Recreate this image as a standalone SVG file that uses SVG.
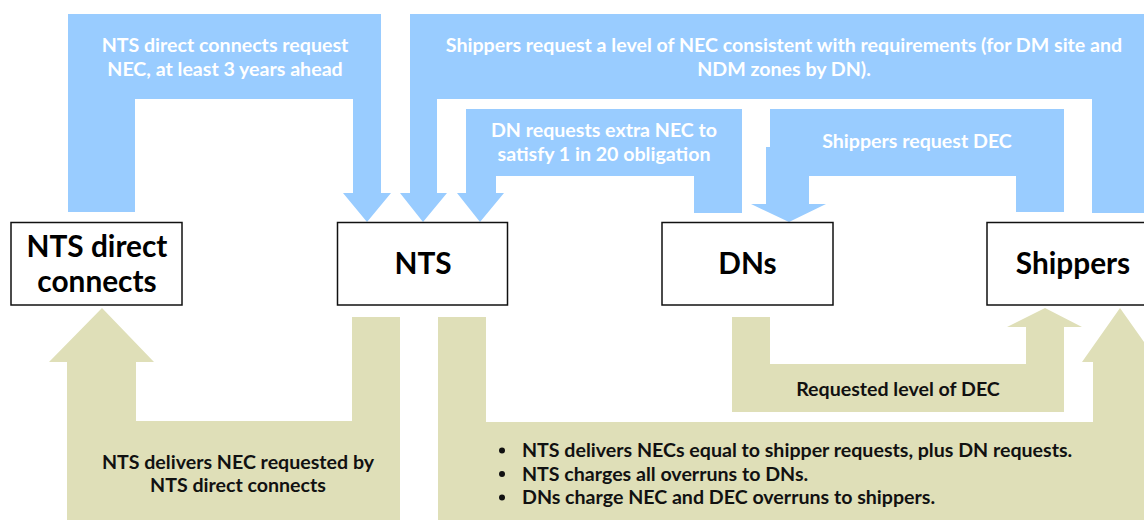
<svg xmlns="http://www.w3.org/2000/svg" width="1144" height="520" viewBox="0 0 1144 520">
<style>
.req{fill:#99CCFF;}
.del{fill:#DFDFB8;}
.wt{fill:#FFFFFF;font-family:Lato,"Liberation Sans",sans-serif;font-weight:bold;font-size:19.6px;text-anchor:middle;}
.bt{fill:#111111;font-family:Lato,"Liberation Sans",sans-serif;font-weight:bold;font-size:19.6px;}
.box{fill:#FFFFFF;stroke:#111111;stroke-width:1.5;}
.lbl{fill:#000000;font-family:Lato,"Liberation Sans",sans-serif;font-weight:bold;font-size:29.8px;text-anchor:middle;}
</style>
<rect width="1144" height="520" fill="#FFFFFF"/>
<g id="connectors">
  <g id="c-ntsdc-request">
    <polygon class="req" points="68,14 381,14 381,193 391,193 367,222 343,193 353,193 353,99 135,99 135,212 68,212"/>
    <text class="wt" x="225" y="52">NTS direct connects request</text>
    <text class="wt" x="225" y="76">NEC, at least 3 years ahead</text>
  </g>
  <g id="c-shippers-nec">
    <polygon class="req" points="410,14 1144,14 1144,213 1092,213 1092,99 437,99 437,193 447,193 423,222 400,193 410,193"/>
    <text class="wt" x="784" y="52">Shippers request a level of NEC consistent with requirements (for DM site and</text>
    <text class="wt" x="784" y="76">NDM zones by DN).</text>
  </g>
  <g id="c-dn-extra">
    <polygon class="req" points="466,109 742,109 742,213 694,213 694,176 496,176 496,193 504,193 480,222 457,193 466,193"/>
    <text class="wt" x="604" y="137">DN requests extra NEC to</text>
    <text class="wt" x="604" y="161">satisfy 1 in 20 obligation</text>
  </g>
  <g id="c-shippers-dec">
    <polygon class="req" points="770,109 1064,109 1064,212 1016,212 1016,176 809,176 809,204 826,204 789,222 751,204 766,204 766,147 770,147"/>
    <text class="wt" x="917" y="148">Shippers request DEC</text>
  </g>
  <g id="c-nts-delivers-dc">
    <polygon class="del" points="102,308 154,362 136,362 136,421 352,421 352,317 400,317 400,520 67,520 67,362 49,362"/>
    <text class="bt" x="238" y="469" text-anchor="middle">NTS delivers NEC requested by</text>
    <text class="bt" x="238" y="492" text-anchor="middle">NTS direct connects</text>
  </g>
  <g id="c-nts-delivers-shippers">
    <polygon class="del" points="438,317 486,317 486,422 1093,422 1093,362 1082,362 1120,308 1158,362 1147,362 1147,520 438,520"/>
    <circle cx="502" cy="450.5" r="3" fill="#111111"/>
    <circle cx="502" cy="474" r="3" fill="#111111"/>
    <circle cx="502" cy="497.5" r="3" fill="#111111"/>
    <text class="bt" x="522" y="457">NTS delivers NECs equal to shipper requests, plus DN requests.</text>
    <text class="bt" x="522" y="480.5">NTS charges all overruns to DNs.</text>
    <text class="bt" x="522" y="504">DNs charge NEC and DEC overruns to shippers.</text>
  </g>
  <g id="c-dec-level">
    <polygon class="del" points="732,317 770,317 770,364 1026,364 1026,327 1007,327 1045,308 1082,327 1064,327 1064,412 732,412"/>
    <text class="bt" x="898" y="396" text-anchor="middle">Requested level of DEC</text>
  </g>
</g>
<g id="node-ntsdc">
  <rect class="box" x="11" y="222.5" width="171" height="82.5"/>
  <text class="lbl" x="97" y="257">NTS direct</text>
  <text class="lbl" x="97" y="292">connects</text>
</g>
<g id="node-nts">
  <rect class="box" x="337.5" y="222.5" width="170" height="82.5"/>
  <text class="lbl" x="423" y="274">NTS</text>
</g>
<g id="node-dns">
  <rect class="box" x="662" y="222.5" width="171" height="82.5"/>
  <text class="lbl" x="747.5" y="274">DNs</text>
</g>
<g id="node-shippers">
  <rect class="box" x="987" y="222.5" width="171" height="82.5"/>
  <text class="lbl" x="1073" y="274">Shippers</text>
</g>
</svg>
